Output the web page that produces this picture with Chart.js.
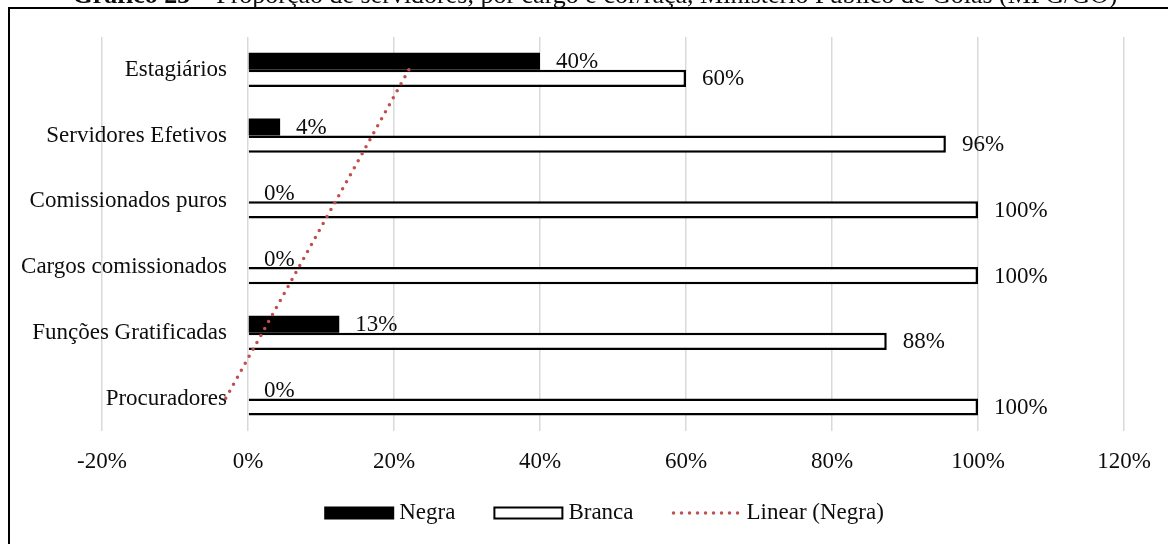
<!DOCTYPE html>
<html>
<head>
<meta charset="utf-8">
<script src="https://cdn.jsdelivr.net/npm/chart.js@4/dist/chart.umd.min.js"></script>
<style>
  html, body { margin: 0; padding: 0; background: #ffffff; }
  #wrap { width: 1168px; height: 544px; position: relative; overflow: hidden; }
  canvas { display: block; }
</style>
</head>
<body>
<div id="wrap"><canvas id="chart" width="1168" height="544"></canvas></div>
<script>
// Categories, top to bottom
const categories = [
  'Estagiários',
  'Servidores Efetivos',
  'Comissionados puros',
  'Cargos comissionados',
  'Funções Gratificadas',
  'Procuradores'
];

// Share of each group per category (%)
const negra  = [40, 4.4, 0, 0, 12.5, 0];
const branca = [60, 95.6, 100, 100, 87.5, 100];

// Horizontal axis ticks (%)
const xTicks = [-20, 0, 20, 40, 60, 80, 100, 120];

const seriesNames = ['Negra', 'Branca', 'Linear (Negra)'];
const titleBold = 'Gráfico 23 – ';
const titleRest = 'Proporção de servidores, por cargo e cor/raça, Ministério Público de Goiás (MPG/GO)';

// Least-squares linear trend of a series over its category positions
function linearTrend(values) {
  const n = values.length;
  const xs = values.map((_, i) => i);
  const mx = xs.reduce((a, b) => a + b, 0) / n;
  const my = values.reduce((a, b) => a + b, 0) / n;
  let sxy = 0, sxx = 0;
  xs.forEach((x, i) => { sxy += (x - mx) * (values[i] - my); sxx += (x - mx) * (x - mx); });
  const slope = sxy / sxx;
  return xs.map(x => my + slope * (x - mx));
}
const trendNegra = linearTrend(negra);

const FONT = "'Liberation Serif', 'Times New Roman', serif";
const TEXT = '#0d0d0d';
const TREND_RED = '#C0504D';
Chart.defaults.font.family = FONT;
Chart.defaults.font.size = 23;
Chart.defaults.color = TEXT;

// Frame, title, category labels, value labels and legend
const decorations = {
  id: 'decorations',
  afterDraw(chart) {
    const ctx = chart.ctx;
    const xs = chart.scales.x, ys = chart.scales.y;
    ctx.save();

    // outer frame
    ctx.strokeStyle = '#000';
    ctx.lineWidth = 2;
    ctx.beginPath();
    ctx.moveTo(9, 544);
    ctx.lineTo(9, 8);
    ctx.lineTo(1168, 8);
    ctx.stroke();

    // title
    ctx.fillStyle = TEXT;
    ctx.textBaseline = 'alphabetic';
    ctx.font = 'bold 26px ' + FONT;
    const wb = ctx.measureText(titleBold).width;
    ctx.font = '26px ' + FONT;
    const wr = ctx.measureText(titleRest).width;
    const tx = 595 - (wb + wr) / 2;
    ctx.textAlign = 'left';
    ctx.font = 'bold 26px ' + FONT;
    ctx.fillText(titleBold, tx, 3);
    ctx.font = '26px ' + FONT;
    ctx.fillText(titleRest, tx + wb, 3);

    // category labels next to the 0% line
    ctx.font = '23px ' + FONT;
    const x0 = xs.getPixelForValue(0);
    ctx.textAlign = 'right';
    ctx.textBaseline = 'middle';
    categories.forEach((c, i) => ctx.fillText(c, x0 - 21, ys.getPixelForValue(i)));

    // value labels at the end of each bar
    ctx.textAlign = 'left';
    [0, 1].forEach(di => {
      const meta = chart.getDatasetMeta(di);
      const vals = chart.data.datasets[di].data;
      meta.data.forEach((bar, i) => {
        ctx.fillText(Math.round(vals[i]) + '%', bar.x + 16, bar.y + 1);
      });
    });

    // legend
    const ly = 513, boxW = 70, boxH = 13;
    const gapBox = 5, gapItem = 38;
    const widths = seriesNames.map(s => ctx.measureText(s).width);
    const total = widths.reduce((a, b) => a + b, 0) + 3 * (boxW + gapBox) + 2 * gapItem;
    let lx = 604 - total / 2;
    seriesNames.forEach((name, i) => {
      if (i === 0) {
        ctx.fillStyle = '#000';
        ctx.fillRect(lx, ly - boxH / 2, boxW, boxH);
      } else if (i === 1) {
        ctx.fillStyle = '#fff';
        ctx.fillRect(lx, ly - boxH / 2, boxW, boxH);
        ctx.strokeStyle = '#000';
        ctx.lineWidth = 2;
        ctx.strokeRect(lx + 1, ly - boxH / 2 + 1, boxW - 2, boxH - 2);
      } else {
        ctx.strokeStyle = TREND_RED;
        ctx.lineWidth = 3.5;
        ctx.lineCap = 'round';
        ctx.setLineDash([0, 8]);
        ctx.beginPath();
        ctx.moveTo(lx + 2, ly);
        ctx.lineTo(lx + boxW, ly);
        ctx.stroke();
        ctx.setLineDash([]);
      }
      ctx.fillStyle = TEXT;
      ctx.textBaseline = 'middle';
      ctx.fillText(name, lx + boxW + gapBox, ly);
      lx += boxW + gapBox + widths[i] + gapItem;
    });
    ctx.restore();
  }
};

new Chart(document.getElementById('chart').getContext('2d'), {
  type: 'bar',
  data: {
    labels: categories,
    datasets: [
      {
        label: seriesNames[0],
        data: negra,
        backgroundColor: '#000000',
        borderWidth: 0,
        categoryPercentage: 0.52,
        barPercentage: 1,
        order: 1
      },
      {
        label: seriesNames[1],
        data: branca,
        backgroundColor: '#ffffff',
        borderColor: '#000000',
        borderWidth: 2.5,
        categoryPercentage: 0.52,
        barPercentage: 1,
        order: 1
      },
      {
        type: 'line',
        indexAxis: 'y',
        label: seriesNames[2],
        data: trendNegra,
        borderColor: TREND_RED,
        borderWidth: 3.5,
        borderDash: [0, 8],
        borderCapStyle: 'round',
        pointRadius: 0,
        fill: false,
        tension: 0,
        order: 0
      }
    ]
  },
  options: {
    indexAxis: 'y',
    responsive: false,
    animation: false,
    layout: { padding: { top: 37, left: 102, right: 44, bottom: 51 } },
    plugins: { legend: { display: false }, tooltip: { enabled: false } },
    scales: {
      x: {
        min: xTicks[0],
        max: xTicks[xTicks.length - 1],
        afterBuildTicks: s => { s.ticks = xTicks.map(v => ({ value: v })); },
        ticks: { callback: v => v + '%', padding: 17, color: TEXT, maxRotation: 0 },
        grid: { color: '#d9d9d9', lineWidth: 1.5, drawTicks: false },
        border: { display: false }
      },
      y: { display: false }
    }
  },
  plugins: [decorations]
});
</script>
</body>
</html>
